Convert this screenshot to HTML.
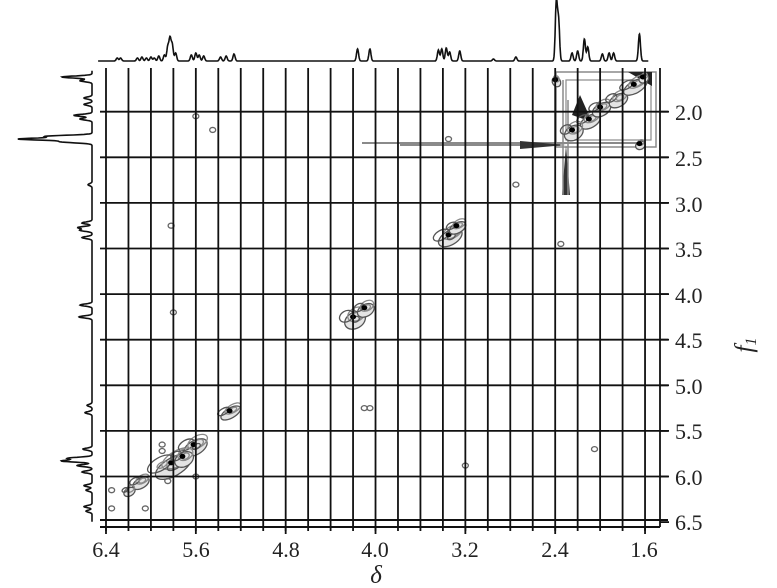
<!DOCTYPE html>
<html><head><meta charset="utf-8"><style>
html,body{margin:0;padding:0;background:#fff;}
svg{display:block;}
text{font-family:"Liberation Serif",serif;fill:#222;}
</style></head><body>
<svg id="s" width="777" height="588" viewBox="0 0 777 588" xmlns="http://www.w3.org/2000/svg">
<g id="g"></g>
<g font-size="22">
<text x="106" y="557" text-anchor="middle">6.4</text>
<text x="196" y="557" text-anchor="middle">5.6</text>
<text x="286" y="557" text-anchor="middle">4.8</text>
<text x="375" y="557" text-anchor="middle">4.0</text>
<text x="465" y="557" text-anchor="middle">3.2</text>
<text x="555" y="557" text-anchor="middle">2.4</text>
<text x="644" y="557" text-anchor="middle">1.6</text>
<text x="675" y="120">2.0</text>
<text x="675" y="166">2.5</text>
<text x="675" y="212">3.0</text>
<text x="675" y="257">3.5</text>
<text x="675" y="303">4.0</text>
<text x="675" y="348">4.5</text>
<text x="675" y="394">5.0</text>
<text x="675" y="439">5.5</text>
<text x="675" y="485">6.0</text>
<text x="675" y="530">6.5</text>
</g>
<text x="376" y="583" font-size="25" font-style="italic" text-anchor="middle">δ</text>
<text transform="translate(752,345) rotate(-90)" font-size="25" font-style="italic" text-anchor="middle">f<tspan font-size="16" dy="4">1</tspan></text>
</svg>
<script>
var g=document.getElementById('g'),NS='http://www.w3.org/2000/svg';
function el(t,a){var e=document.createElementNS(NS,t);for(var k in a)e.setAttribute(k,a[k]);g.appendChild(e);return e;}
function X(p){return 106+(6.4-p)*112.3;}
function Y(p){return 111.7+(p-2)*91.2;}
var gray='#8a8a8a';
function blob(p1,p2,rx,ry,n,dark){
 for(var i=0;i<n;i++){el('ellipse',{cx:X(p1)+(Math.sin(i*2.3)*rx*0.5),cy:Y(p2)+(Math.cos(i*1.7)*ry*0.5),rx:rx*(1-i/(n+1)),ry:ry*(1-i/(n+1)),fill:i==0?'#e4e4e4':'none',stroke:i%2?gray:'#555','stroke-width':1.3,transform:'rotate(-30 '+X(p1)+' '+Y(p2)+')'});}
 if(dark)el('ellipse',{cx:X(p1),cy:Y(p2),rx:3,ry:2.5,fill:'#000'});
}
blob(5.82,5.85,20,9,6,1);blob(5.62,5.65,13,7,5,1);blob(5.72,5.78,10,7,4,1);blob(6.1,6.05,9,5,4,0);blob(6.2,6.15,6,4,3,0);
blob(5.3,5.28,11,5,4,1);blob(4.2,4.25,11,8,5,1);blob(4.1,4.15,9,6,4,1);blob(3.35,3.35,13,7,5,1);blob(3.28,3.25,9,5,4,1);
el('rect',{x:556,y:72,width:100,height:75,fill:'none',stroke:gray,'stroke-width':1.5});
el('rect',{x:566,y:80,width:85,height:60,fill:'none',stroke:gray,'stroke-width':1.2});
el('path',{d:'M362,143 L640,143 M400,145 L560,145',stroke:gray,'stroke-width':2,fill:'none'});
el('path',{d:'M520,141 L566,145 L520,149 Z M566,145 L570,195 L562,195 Z',fill:'#333'});
el('path',{d:'M563,80 L563,195 M568,100 L568,195',stroke:gray,'stroke-width':1.5});
el('path',{d:'M572,115 L580,95 L592,122 Z M628,72 L652,72 L652,86 Z',fill:'#222'});
blob(2.1,2.08,11,6,4,1);blob(2.0,1.95,10,6,4,1);blob(1.85,1.85,10,6,4,0);blob(2.25,2.2,10,7,4,1);blob(1.7,1.7,13,6,4,1);
blob(1.65,2.35,5,4,2,1);blob(2.4,1.65,4,5,2,1);blob(1.62,1.62,5,4,2,1);
[[5.6,2.05],[5.45,2.2],[5.82,3.25],[5.8,4.2],[4.1,5.25],[4.05,5.25],[3.2,5.88],[2.05,5.7],[2.75,2.8],[2.35,3.45],[3.35,2.3],[6.35,6.35],[6.35,6.15],[6.05,6.35],[5.85,6.05],[5.6,6.0],[5.9,5.65],[5.9,5.72]].forEach(function(c){el('ellipse',{cx:X(c[0]),cy:Y(c[1]),rx:3,ry:2.5,fill:'none',stroke:'#666','stroke-width':1.3});});
for(var k=0;k<25;k++){var x=106+k*22.46;el('line',{x1:x,y1:68,x2:x,y2:531,stroke:'#111','stroke-width':1.8});}
el('line',{x1:660,y1:68,x2:660,y2:527,stroke:'#111','stroke-width':1.8});
for(var k=0;k<9;k++){var y=Y(2+k*0.5);el('line',{x1:100,y1:y,x2:668,y2:y,stroke:'#111','stroke-width':1.8});}
el('line',{x1:100,y1:520,x2:668,y2:520,stroke:'#111','stroke-width':2});
el('line',{x1:100,y1:527,x2:660,y2:527,stroke:'#111','stroke-width':2});
var tp=[[6.3,3],[6.27,3],[6.12,3],[6.08,4],[6.04,3],[6.0,4],[5.97,3],[5.93,5],[5.88,6],[5.85,14],[5.83,22],[5.81,16],[5.78,8],[5.64,6],[5.6,8],[5.57,6],[5.53,5],[5.38,4],[5.33,5],[5.26,7],[4.16,12],[4.05,12],[3.44,11],[3.41,12],[3.37,13],[3.34,9],[3.25,10],[2.95,2],[2.75,4],[2.39,58],[2.37,40],[2.25,8],[2.2,10],[2.14,22],[2.11,14],[1.98,7],[1.92,8],[1.88,8],[1.65,27]];
function lor(p,arr,w){var s=0;arr.forEach(function(a){var d=(p-a[0])/w;s+=a[1]*Math.exp(-d*d);});return s;}
var d='';for(var p=6.47;p>=1.57;p-=0.003){d+=(d?'L':'M')+X(p).toFixed(1)+','+(61-lor(p,tp,0.013)).toFixed(1);}
el('path',{d:d,fill:'none',stroke:'#111','stroke-width':1.6});
var lp=[[1.62,30],[1.66,12],[1.85,8],[1.92,8],[2.04,18],[2.08,12],[2.27,45],[2.3,72],[2.33,30],[2.8,4],[3.22,10],[3.27,14],[3.3,12],[3.38,10],[4.12,12],[4.25,13],[5.22,5],[5.3,7],[5.7,9],[5.8,24],[5.83,30],[5.88,15],[5.95,10],[6.1,8],[6.15,6],[6.33,8],[6.38,6]];
d='';for(var p=1.55;p<=6.5;p+=0.003){d+=(d?'L':'M')+(92-lor(p,lp,0.016)).toFixed(1)+','+Y(p).toFixed(1);}
el('path',{d:d,fill:'none',stroke:'#111','stroke-width':1.6});
[6.4,5.6,4.8,4.0,3.2,2.4,1.6].forEach(function(p){el('line',{x1:X(p),y1:527,x2:X(p),y2:534,stroke:'#111','stroke-width':1.8});});
for(var k=0;k<10;k++){var y=Y(2+k*0.5);el('line',{x1:660,y1:y,x2:669,y2:y,stroke:'#111','stroke-width':1.8});}
</script>
</body></html>
